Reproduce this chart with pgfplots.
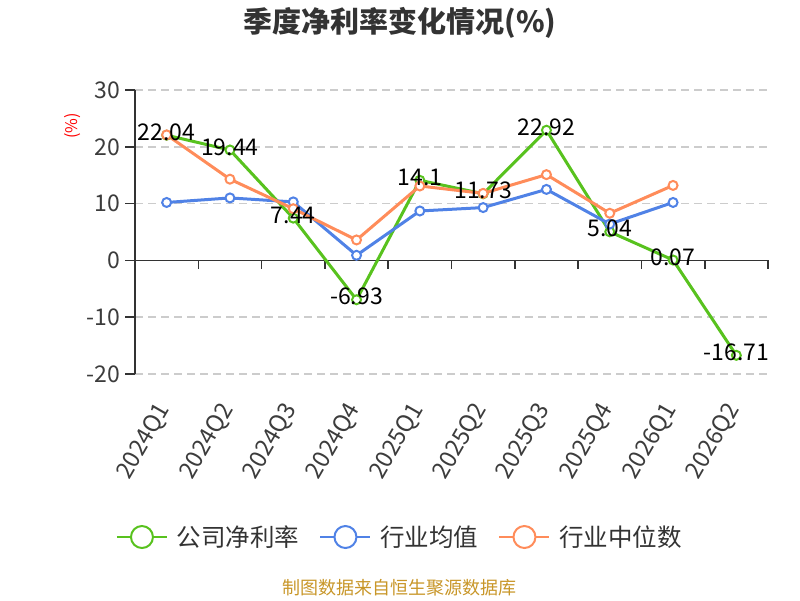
\documentclass[border=0pt]{standalone}
\usepackage{pgfplots}
\pgfplotsset{compat=1.18}
\usepackage{fontspec}
\setmainfont{Noto Sans CJK SC}
\definecolor{cgreen}{RGB}{88,194,30}
\definecolor{cblue}{RGB}{80,130,230}
\definecolor{corange}{RGB}{255,140,90}
\definecolor{axisc}{RGB}{51,51,51}
\definecolor{tickc}{RGB}{60,60,60}
\definecolor{gridc}{RGB}{204,204,204}
\definecolor{foot}{RGB}{200,150,40}
\begin{document}
\begin{tikzpicture}[x=1pt,y=1pt]
\path[use as bounding box] (0,0) rectangle (800,600);
\node[font=\fontsize{29}{34}\selectfont\bfseries, text=axisc] at (400,577) {季度净利率变化情况(\%)};
\node[font=\fontsize{16}{19}\selectfont, text=red, rotate=90] at (73,474) {(\%)};
\node[font=\fontsize{18}{21}\selectfont, text=foot] at (399,12) {制图数据来自恒生聚源数据库};
\begin{axis}[
  at={(135pt,226pt)}, anchor=south west,
  scale only axis, width=633pt, height=284pt,
  xmin=-0.5, xmax=9.5, ymin=-20, ymax=30,
  ytick={-20,-10,...,30},
  xtick={0,...,9},
  xticklabels={2024Q1,2024Q2,2024Q3,2024Q4,2025Q1,2025Q2,2025Q3,2025Q4,2026Q1,2026Q2},
  axis y line*=left, axis x line*=bottom,
  x axis line style={draw=none},
  y axis line style={draw=axisc, line width=1.6pt, -},
  xtick style={draw=none},
  ytick style={draw=axisc, line width=1.6pt},
  tick align=outside, major tick length=10pt,
  ymajorgrids,
  grid style={gridc, line width=1.5pt, dash pattern=on 8pt off 5pt},
  extra y ticks={0},
  extra y tick labels={},
  extra y tick style={grid style={solid, axisc, line width=1.6pt}, ytick style={draw=none}},
  /pgf/number format/assume math mode=true,
  yticklabel style={font=\fontsize{23}{26}\selectfont, text=tickc, xshift=-1pt},
  xticklabel style={font=\fontsize{23.5}{26}\selectfont, text=tickc, rotate=60, anchor=east, xshift=-16pt, yshift=-9pt},
  clip=false,
  legend columns=3,
  legend style={at={(0.4186,-0.574)}, anchor=center, draw=none, fill=none,
    font=\fontsize{24.5}{28}\selectfont, text=axisc,
    /tikz/every odd column/.append style={column sep=7pt},
    /tikz/every even column/.append style={column sep=18pt}},
  legend image code/.code={
    \draw[#1, line width=2pt] (0pt,0pt) -- (50pt,0pt);
    \draw[#1, line width=2pt, fill=white] (25pt,0pt) circle (11pt);
  },
  every axis plot/.append style={line width=3pt, mark=*, mark size=4.5pt, mark options={fill=white, line width=2pt}},
]
\pgfplotsinvokeforeach{0.5,1.5,2.5,3.5,4.5,5.5,6.5,7.5,8.5,9.5}{
  \draw[axisc, line width=1.6pt] (axis cs:#1,0) -- ++(0pt,-9pt);
}
\addplot[color=cgreen] coordinates {(0,22.04)(1,19.44)(2,7.44)(3,-6.93)(4,14.1)(5,11.73)(6,22.92)(7,5.04)(8,0.07)(9,-16.71)};
\addlegendentry{公司净利率}
\addplot[color=cblue] coordinates {(0,10.2)(1,11.0)(2,10.3)(3,0.9)(4,8.7)(5,9.3)(6,12.5)(7,6.4)(8,10.2)};
\addlegendentry{行业均值}
\addplot[color=corange] coordinates {(0,22.1)(1,14.3)(2,9.1)(3,3.6)(4,13.1)(5,11.8)(6,15.1)(7,8.3)(8,13.2)};
\addlegendentry{行业中位数}
\addplot[draw=none, mark=none, forget plot, nodes near coords, point meta=explicit symbolic,
  every node near coord/.append style={anchor=center, yshift=3pt, text=black, font=\fontsize{23}{26}\selectfont}]
  table[meta=lab] {
x y lab
0 22.04 22.04
1 19.44 19.44
2 7.44 7.44
3 -6.93 -6.93
4 14.1 14.1
5 11.73 11.73
6 22.92 22.92
7 5.04 5.04
8 0.07 0.07
9 -16.71 -16.71
};
\end{axis}
\end{tikzpicture}
\end{document}
